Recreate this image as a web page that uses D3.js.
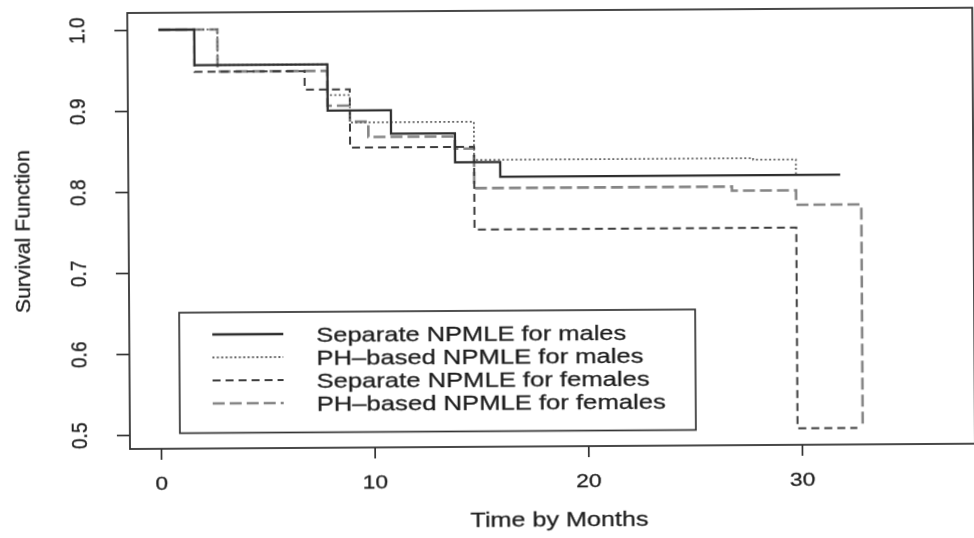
<!DOCTYPE html>
<html>
<head>
<meta charset="utf-8">
<script src="https://cdn.jsdelivr.net/npm/d3@7"></script>
<style>
  html, body { margin: 0; padding: 0; background: #fff; }
  svg { display: block; }
  text { font-family: "Liberation Sans", Arial, Helvetica, sans-serif; fill: #1e1e1e; stroke: #1e1e1e; stroke-width: 0.3; }
</style>
</head>
<body>
<svg id="chart" width="974" height="538"></svg>
<script>
// Step-function survival estimates (time in months, survival probability)
const sepMaleTimes   = [0, 1.68, 7.9, 10.86, 13.85, 15.96, 31.87];
const sepMaleSurv    = [1.0, 0.956, 0.899, 0.870, 0.834, 0.816, 0.816];
const phMaleTimes    = [0, 2.76, 7.9, 8.94, 14.74, 27.8, 29.8];
const phMaleSurv     = [1.0, 0.956, 0.918, 0.884, 0.837, 0.835, 0.817];
const sepFemaleTimes = [0, 1.68, 6.83, 8.94, 14.74, 29.8, 32.6];
const sepFemaleSurv  = [1.0, 0.948, 0.925, 0.853, 0.751, 0.503, 0.503];
const phFemaleTimes  = [0, 2.76, 7.9, 8.94, 9.8, 13.85, 14.74, 26.8, 29.8, 32.85];
const phFemaleSurv   = [1.0, 0.948, 0.905, 0.885, 0.866, 0.851, 0.802, 0.797, 0.779, 0.505];

const seriesNames = [
  "Separate NPMLE for males",
  "PH\u2013based NPMLE for males",
  "Separate NPMLE for females",
  "PH\u2013based NPMLE for females"
];
const xTickValues = [0, 10, 20, 30];
const yTickValues = [0.5, 0.6, 0.7, 0.8, 0.9, 1.0];
const xTitle = "Time by Months";
const yTitle = "Survival Function";

// line appearance per series
const seriesStyle = [
  { stroke: "#2e2e2e", width: 2.3, dash: null },
  { stroke: "#666", width: 1.8, dash: "2,2.4" },
  { stroke: "#3c3c3c", width: 2.0, dash: "8,5" },
  { stroke: "#858585", width: 2.6, dash: "12,5" }
];

const series = [
  d3.zip(sepMaleTimes, sepMaleSurv),
  d3.zip(phMaleTimes, phMaleSurv),
  d3.zip(sepFemaleTimes, sepFemaleSurv),
  d3.zip(phFemaleTimes, phFemaleSurv)
];

const svg = d3.select("#chart");

// soft print look
const defs = svg.append("defs");
defs.append("filter").attr("id", "soft")
  .attr("x", "-5%").attr("y", "-5%").attr("width", "110%").attr("height", "110%")
  .append("feGaussianBlur").attr("stdDeviation", 0.55);

const frame = { left: 130, right: 975, top: 13, bottom: 449 };

const x = d3.scaleLinear().domain([-1.45, 38.1]).range([frame.left, frame.right]);
const y = d3.scaleLinear().domain([0.4827, 1.021]).range([frame.bottom, frame.top]);

// the whole figure sits very slightly tilted
const g = svg.append("g")
  .attr("filter", "url(#soft)")
  .attr("transform", `rotate(-0.36, ${frame.left}, ${frame.bottom})`);

// plot box
g.append("rect")
  .attr("x", frame.left).attr("y", frame.top)
  .attr("width", frame.right - frame.left).attr("height", frame.bottom - frame.top)
  .attr("fill", "none").attr("stroke", "#333").attr("stroke-width", 1.8);

// x axis
const xAxis = g.append("g").attr("transform", `translate(0,${frame.bottom})`)
  .call(d3.axisBottom(x).tickValues(xTickValues).tickSize(11).tickPadding(0).tickFormat(d3.format("d")));
xAxis.select(".domain").remove();
xAxis.selectAll(".tick line").attr("stroke", "#333").attr("stroke-width", 1.7);
xAxis.selectAll(".tick text")
  .attr("y", 0).attr("dy", 0)
  .attr("font-size", 19)
  .attr("text-anchor", "middle")
  .attr("transform", "translate(0,41) scale(1.2,1)");

// y axis
const yAxis = g.append("g").attr("transform", `translate(${frame.left},0)`)
  .call(d3.axisLeft(y).tickValues(yTickValues).tickSize(13).tickFormat(d3.format(".1f")));
yAxis.select(".domain").remove();
yAxis.selectAll(".tick line").attr("stroke", "#333").attr("stroke-width", 1.7);
yAxis.selectAll(".tick text")
  .attr("x", 0).attr("dy", 0).attr("y", 0)
  .attr("font-size", 19)
  .attr("text-anchor", "middle")
  .attr("transform", "translate(-51,0) rotate(-90) scale(1,1.2) translate(0,6.5)");

// axis titles
g.append("text")
  .attr("x", 559).attr("y", 529)
  .attr("text-anchor", "middle")
  .attr("font-size", 21)
  .attr("textLength", 178).attr("lengthAdjust", "spacingAndGlyphs")
  .text(xTitle);

g.append("text")
  .attr("transform", "translate(31,231) rotate(-90)")
  .attr("text-anchor", "middle")
  .attr("font-size", 21)
  .attr("textLength", 163).attr("lengthAdjust", "spacingAndGlyphs")
  .text(yTitle);

// survival curves
const line = d3.line()
  .x(d => x(d[0]))
  .y(d => y(d[1]))
  .curve(d3.curveStepAfter);

const order = [3, 2, 1, 0];
order.forEach(i => {
  const st = seriesStyle[i];
  g.append("path")
    .datum(series[i])
    .attr("d", line)
    .attr("fill", "none")
    .attr("stroke", st.stroke)
    .attr("stroke-width", st.width)
    .attr("stroke-dasharray", st.dash)
    .attr("stroke-linejoin", "miter");
});

// legend
const legend = { left: 180, top: 313, right: 696, bottom: 433.5 };
const legendRows = [335, 358, 381, 404];
const legendTextWidths = [310, 327, 333, 349];

g.append("rect")
  .attr("x", legend.left).attr("y", legend.top)
  .attr("width", legend.right - legend.left).attr("height", legend.bottom - legend.top)
  .attr("fill", "#fff").attr("stroke", "#333").attr("stroke-width", 1.7);

seriesNames.forEach((name, i) => {
  const st = seriesStyle[i];
  g.append("line")
    .attr("x1", 213).attr("x2", 284)
    .attr("y1", legendRows[i]).attr("y2", legendRows[i])
    .attr("stroke", st.stroke)
    .attr("stroke-width", st.width)
    .attr("stroke-dasharray", st.dash);
  g.append("text")
    .attr("x", 317).attr("y", legendRows[i] + 7.5)
    .attr("font-size", 21)
    .attr("textLength", legendTextWidths[i]).attr("lengthAdjust", "spacingAndGlyphs")
    .text(name);
});
</script>
</body>
</html>
